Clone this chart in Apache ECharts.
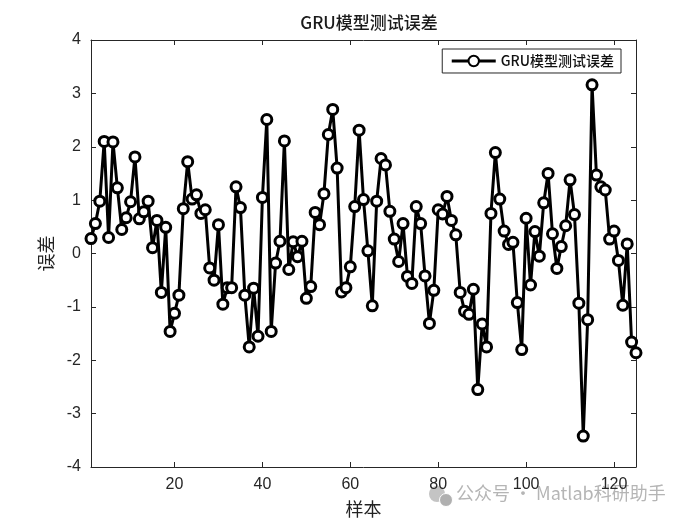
<!DOCTYPE html>
<html>
<head>
<meta charset="utf-8">
<script src="https://cdn.jsdelivr.net/npm/echarts@6/dist/echarts.min.js"></script>
<style>html,body{margin:0;padding:0;background:#fff}#c{width:700px;height:525px}</style>
</head>
<body>
<div id="c"></div>
<script>
const samples = Array.from({length:125}, (_, i) => i + 1);
const errors = [
 0.28, 0.56, 0.98, 2.10, 0.30, 2.09, 1.23, 0.45, 0.67, 0.97,
 1.81, 0.65, 0.78, 0.98, 0.11, 0.62, -0.73, 0.49, -1.46, -1.12,
 -0.78, 0.84, 1.72, 1.02, 1.10, 0.75, 0.82, -0.27, -0.50, 0.54,
 -0.95, -0.64, -0.64, 1.25, 0.86, -0.78, -1.75, -0.65, -1.55, 1.05,
 2.51, -1.46, -0.18, 0.23, 2.11, -0.30, 0.22, -0.06, 0.23, -0.84,
 -0.62, 0.77, 0.54, 1.12, 2.23, 2.70, 1.60, -0.72, -0.64, -0.25,
 0.88, 2.31, 1.01, 0.05, -0.98, 0.98, 1.78, 1.66, 0.79, 0.27,
 -0.15, 0.56, -0.43, -0.56, 0.88, 0.56, -0.42, -1.31, -0.69, 0.82,
 0.74, 1.07, 0.62, 0.35, -0.73, -1.08, -1.14, -0.67, -2.55, -1.32,
 -1.75, 0.75, 1.89, 1.02, 0.42, 0.17, 0.21, -0.92, -1.80, 0.66,
 -0.59, 0.41, -0.05, 0.95, 1.50, 0.37, -0.28, 0.13, 0.52, 1.38,
 0.73, -0.93, -3.42, -1.24, 3.16, 1.47, 1.25, 1.19, 0.27, 0.42,
 -0.13, -0.97, 0.18, -1.66, -1.86
];
const xTicks = [20, 40, 60, 80, 100, 120];
const yTicks = [-4, -3, -2, -1, 0, 1, 2, 3, 4];
const seriesName = 'GRU模型测试误差';
const titleText = 'GRU模型测试误差';
const xName = '样本';
const yName = '误差';

const chart = echarts.init(document.getElementById('c'), null, {renderer: 'canvas'});
const txtFont = '"Liberation Sans Narrow", "Liberation Sans", "Noto Sans CJK SC", sans-serif';
const cjkFont = '"Noto Sans CJK SC", sans-serif';
const axisLineStyle = {show: true, onZero: false, lineStyle: {color: '#262626', width: 1}};
const tickStyle = {show: true, inside: true, length: 5, lineStyle: {color: '#262626', width: 1}};

chart.setOption({
  backgroundColor: '#fff',
  animation: false,
  title: {
    text: titleText, left: 364, top: 9, textAlign: 'center',
    textStyle: {fontFamily: cjkFont, fontSize: 17, fontWeight: 500, color: '#1a1a1a'}
  },
  grid: {left: 91, right: 64, top: 40, bottom: 58, show: false},
  legend: {
    data: [seriesName], right: 79, top: 49,
    orient: 'horizontal', itemWidth: 44, itemHeight: 13, itemGap: 10,
    lineStyle: {width: 3, color: '#000'},
    backgroundColor: '#fff', borderColor: '#262626', borderWidth: 1, borderRadius: 0,
    padding: [5, 7, 5, 8],
    textStyle: {fontFamily: cjkFont, fontSize: 14, fontWeight: 500, color: '#111'}
  },
  xAxis: [{
    type: 'value', min: 1, max: 125, position: 'bottom',
    name: xName, nameLocation: 'middle', nameGap: 33,
    nameTextStyle: {fontFamily: cjkFont, fontSize: 18, color: '#222'},
    axisLine: axisLineStyle,
    axisTick: Object.assign({customValues: xTicks}, tickStyle),
    axisLabel: {customValues: xTicks, color: '#262626', fontSize: 16, fontFamily: txtFont, margin: 10},
    splitLine: {show: false}
  }, {
    type: 'value', min: 1, max: 125, position: 'top',
    axisLine: axisLineStyle,
    axisTick: Object.assign({customValues: xTicks}, tickStyle),
    axisLabel: {show: false}, splitLine: {show: false}
  }],
  yAxis: [{
    type: 'value', min: -4, max: 4, interval: 1, position: 'left',
    name: yName, nameLocation: 'middle', nameGap: 36, nameRotate: 90,
    nameTextStyle: {fontFamily: cjkFont, fontSize: 18, color: '#222'},
    axisLine: axisLineStyle,
    axisTick: Object.assign({customValues: yTicks}, tickStyle),
    axisLabel: {customValues: yTicks, color: '#262626', fontSize: 16, fontFamily: txtFont, margin: 10},
    splitLine: {show: false}
  }, {
    type: 'value', min: -4, max: 4, interval: 1, position: 'right',
    axisLine: axisLineStyle,
    axisTick: Object.assign({customValues: yTicks}, tickStyle),
    axisLabel: {show: false}, splitLine: {show: false}
  }],
  series: [{
    name: seriesName, type: 'line',
    data: samples.map((s, i) => [s, errors[i]]),
    symbol: 'circle', symbolSize: 10,
    lineStyle: {color: '#000', width: 3},
    itemStyle: {color: '#fff', borderColor: '#000', borderWidth: 3},
    emphasis: {disabled: true},
    z: 5
  }],
  graphic: [{
    type: 'text', left: 456, top: 484,
    style: {text: '公众号 · Matlab科研助手', fill: '#b5b5b5', font: '18px "Noto Sans CJK SC", sans-serif'}
  }, {
    type: 'circle', shape: {cx: 437, cy: 494, r: 8}, style: {fill: '#c4c4c4'}
  }, {
    type: 'circle', shape: {cx: 446, cy: 500, r: 6.5}, style: {fill: '#b0b0b0', stroke: '#fff', lineWidth: 1}
  }]
});
</script>
</body>
</html>
